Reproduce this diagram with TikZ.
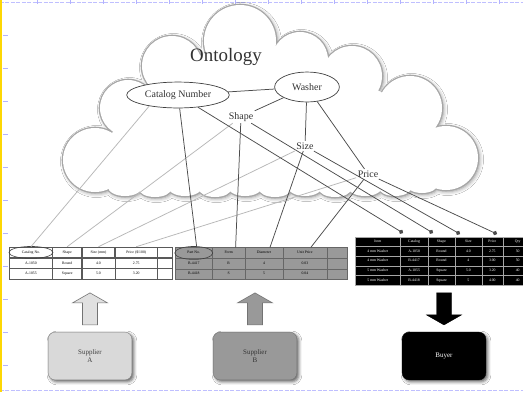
\documentclass[tikz,border=0pt]{standalone}
\usepackage{fontspec}
\setmainfont{Liberation Serif}
\usetikzlibrary{shapes.geometric,arrows.meta,shadows.blur,calc,matrix}

\tikzset{
  concept/.style={font=\fontsize{10}{12}\selectfont, text=black!80, inner sep=1.5},
  oval/.style={concept, ellipse, draw=black!75, line width=0.7, inner sep=0, fill=white},
  link/.style={draw=black!70, line width=0.75},
  faint/.style={draw=black!28, line width=0.75},
  tolist/.style={link, -{Circle[length=4.5,width=4.5]}},
  cellfont/.style={font=\fontsize{3.8}{4.2}\selectfont},
  gridtable/.style={matrix of nodes, nodes in empty cells, inner sep=0,
    column sep=-0.5, row sep=-0.5,
    nodes={draw, cellfont, inner sep=0, minimum height=10.6, text height=2.7,
      text depth=0.9, line width=0.5, anchor=center}},
  party/.style={rounded corners=7, minimum width=84, minimum height=48, align=center,
    font=\fontsize{7}{8}\selectfont,
    blur shadow={shadow xshift=2, shadow yshift=-2, shadow blur radius=3, shadow opacity=60}},
  blockarrow/.pic={\path[pic actions] (-7.5,16) -- (-7.5,-6) -- (-17.5,-6) -- (0,-16)
    -- (17.5,-6) -- (7.5,-6) -- (7.5,16) -- cycle;},
}

% outline of the cloud as a union of round lobes and a rippled base
\newcommand\cloudlobes{%
  (95,160) circle (32) (128,108) circle (28) (172,66) circle (30)
  (240,41) circle (36) (300,60) circle (28) (352,76) circle (30)
  (410,108) circle (32) (446,158) circle (32)
  (125,187) ellipse (17 and 9) (155,189) ellipse (16 and 8) (185,187) ellipse (17 and 9)
  (215,189) ellipse (16 and 8) (245,187) ellipse (17 and 9) (275,189) ellipse (16 and 8)
  (305,187) ellipse (17 and 9) (335,189) ellipse (16 and 8) (365,187) ellipse (17 and 9)
  (395,188) ellipse (16 and 8) (422,184) ellipse (16 and 9)}

\begin{document}
\begin{tikzpicture}[x=1bp, y=-1bp]
\useasboundingbox[fill=white] (0,0) rectangle (523,392);

% ruled page edges
\draw[blue!25, dash pattern=on 4 off 1.5, line width=0.7] (0,2) -- (523,2);
\draw[blue!25, dash pattern=on 4 off 1.5, line width=0.7] (0,390) -- (523,390);
\foreach \x in {37,70,...,523} \draw[blue!30, line width=0.6] (\x,0) -- (\x,4);
\draw[yellow!75!orange, line width=1.4] (1,0) -- (1,392);
\foreach \y in {35,68,...,380} \draw[blue!30, line width=0.7] (3,\y) -- (8,\y);

% the ontology cloud
\path[fill=white, blur shadow={shadow xshift=1.5, shadow yshift=-1.5,
      shadow blur radius=4, shadow opacity=45}] \cloudlobes;
\draw[black!35, line width=2.6] \cloudlobes;
\fill[white] \cloudlobes;
\fill[white] (95,160) -- (128,108) -- (172,66) -- (240,41) -- (300,60) -- (352,76)
  -- (410,108) -- (446,158) -- (422,184) -- (125,187) -- cycle;

\node[font=\fontsize{19}{22}\selectfont, text=black!80] (onto) at (226,57) {Ontology};
\node[oval, minimum width=103, minimum height=26] (cat) at (178,95) {Catalog Number};
\node[oval, minimum width=65, minimum height=30] (wash) at (307,87) {Washer};
\node[concept] (shape) at (241,117) {Shape};
\node[concept] (size) at (305,146) {Size};
\node[concept] (price) at (368,174) {Price};

% supplier and buyer tables
\matrix (tabA) [gridtable, nodes={draw=black!65, fill=white},
  column 1/.style={nodes={minimum width=43}}, column 2/.style={nodes={minimum width=29}},
  column 3/.style={nodes={minimum width=33}}, column 4/.style={nodes={minimum width=42}},
  column 5/.style={nodes={minimum width=15}}, row 1/.style={nodes={line width=0.9}}]
  at (91,263) {
  Catalog No. & Shape  & Size (mm) & Price (\$/100) & \\
  A-1050      & Round  & 4.0       & 2.75           & \\
  A-1055      & Square & 5.0       & 3.20           & \\
};
\matrix (tabB) [gridtable, nodes={draw=black!60, fill=black!40},
  column 1/.style={nodes={minimum width=37}}, column 2/.style={nodes={minimum width=33}},
  column 3/.style={nodes={minimum width=38}}, column 4/.style={nodes={minimum width=44}},
  column 5/.style={nodes={minimum width=21}}]
  at (261.5,263.5) {
  Part No. & Form & Diameter & Unit Price & \\
  B-4417   & R    & 4        & 0.03       & \\
  B-4418   & S    & 5        & 0.04       & \\
};
\matrix (buy) [gridtable, nodes={draw=black!35, fill=black, text=white, minimum height=9.6},
  column 1/.style={nodes={minimum width=45}}, column 2/.style={nodes={minimum width=28}},
  column 3/.style={nodes={minimum width=27}}, column 4/.style={nodes={minimum width=27}},
  column 5/.style={nodes={minimum width=21}}, column 6/.style={nodes={minimum width=30}}]
  at (444,261) {
  Item        & Catalog & Shape  & Size & Price & Qty \\
  4 mm Washer & A-1050  & Round  & 4.0  & 2.75  & 50 \\
  4 mm Washer & B-4417  & Round  & 4    & 3.00  & 50 \\
  5 mm Washer & A-1055  & Square & 5.0  & 3.20  & 40 \\
  5 mm Washer & B-4418  & Square & 5    & 4.00  & 40 \\
};
\draw[black!75, line width=0.6] (tabA-1-1) ellipse (22 and 6);
\draw[black!75, line width=0.6] (tabB-1-1) ellipse (19 and 6.5);

% parties
\node[party, fill=black!15, draw=black!50, text=black!75] (supA) at (90,356) {Supplier\\A};
\node[party, fill=black!40, draw=black!55, text=black!80] (supB) at (255,356) {Supplier\\B};
\node[party, fill=black, draw=black, text=white] (buyer) at (444,356) {Buyer};

\pic[fill=black!12, draw=black!55, line width=0.6] at ($(supA.north)+(0,-23)$) {blockarrow};
\pic[fill=black!40, draw=black!55, line width=0.6] at ($(supB.north)+(0,-23)$) {blockarrow};
\pic[fill=black, draw=black, rotate=180] at ($(buyer.north)+(0,-23)$) {blockarrow};

% relations inside the ontology
\draw[link] (cat) -- (wash);
\draw[link] (wash) -- (shape);
\draw[link] (wash) -- (size);
\draw[link] (wash) -- (price);

% mappings to supplier A
\draw[faint] (cat.201) -- (tabA-1-1.north);
\draw[faint] (shape) -- (tabA-1-2.north);
\draw[faint] (size) -- (tabA-1-3.north);
\draw[faint] (price) -- (tabA-1-4.north);

% mappings to supplier B
\draw[link] (cat) -- ([xshift=3]tabB-1-1.north);
\draw[link] (shape) -- ([xshift=7]tabB-1-2.north);
\draw[link] (size) -- ([xshift=6]tabB-1-3.north);
\draw[link] (price) -- ([xshift=6]tabB-1-4.north);

% mappings to the buyer's list
\coordinate (dcat) at (403,233);
\coordinate (dshape) at (433,233);
\coordinate (dsize) at (460,234);
\coordinate (dprice) at (497,234);
\draw[tolist] (cat) -- (dcat);
\draw[tolist] (shape) -- (dshape);
\draw[tolist] (size) -- (dsize);
\draw[tolist] (price) -- (dprice);
\end{tikzpicture}
\end{document}
